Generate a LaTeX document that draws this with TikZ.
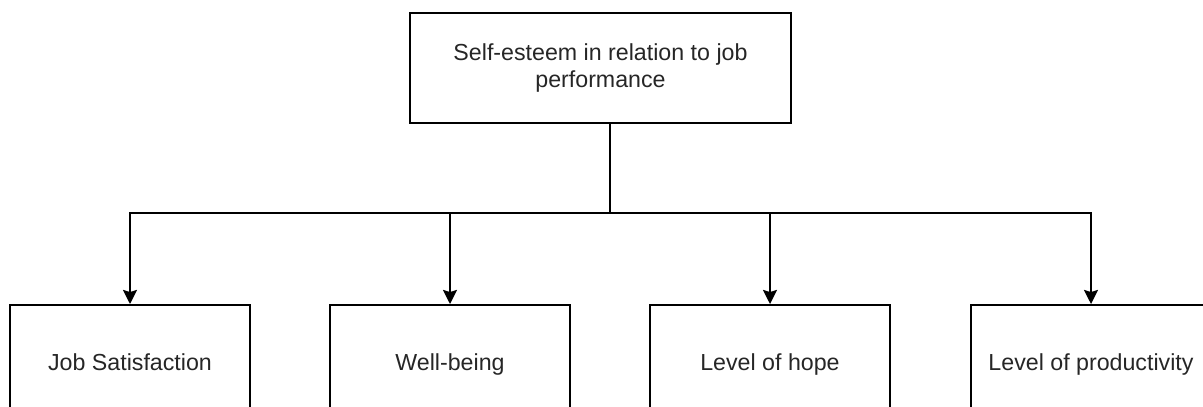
\documentclass[tikz,border=0pt]{standalone}
\usepackage{fontspec}
\setmainfont{Liberation Sans}
\usetikzlibrary{arrows.meta, positioning}

\tikzset{
  box/.style={draw, line width=1.4pt, minimum width=6cm, minimum height=3cm,
    inner sep=0pt, align=center, text=black!85, font=\fontsize{16.5}{18.5}\selectfont},
  outcome/.style={box, text height=12pt, text depth=4pt},
  link/.style={line width=1.4pt},
}

\begin{document}
\begin{tikzpicture}[x=0.025cm, y=-0.025cm, >={Stealth[length=10pt, width=10pt, inset=1.5pt]}]
  % page frame, in pixels of the reference
  \useasboundingbox (0,0) rectangle (1203,407);
  % main topic
  \node[box, minimum width=9.53cm, minimum height=2.75cm] (topic) at (600.5,68)
    {Self-esteem in relation to job\\performance};
  % four outcomes, the bottom row runs off the page
  \node[outcome] (satisf) at (130,365) {Job Satisfaction};
  \node[outcome] (wellb)  at (450,365) {Well-being};
  \node[outcome] (hope)   at (770,365) {Level of hope};
  \node[outcome] (prod)   at (1091,365) {Level of productivity};
  % connectors
  \coordinate (split) at (610,213);
  \draw[link] (topic.south -| split) -- (split);
  \foreach \n in {satisf, wellb, hope, prod}
    \draw[link, ->] (split) -| (\n.north);
\end{tikzpicture}
\end{document}
